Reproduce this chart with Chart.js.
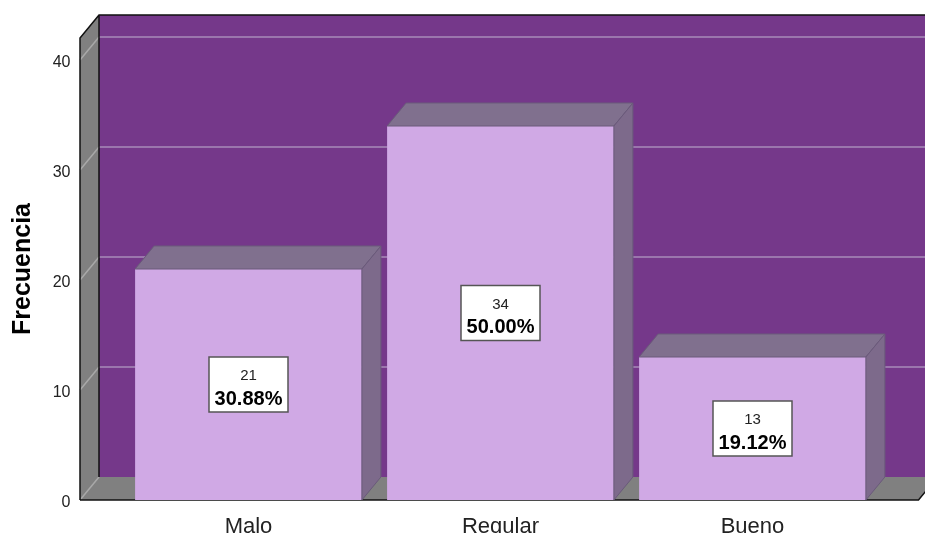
<!DOCTYPE html>
<html>
<head>
<meta charset="utf-8">
<script src="https://cdn.jsdelivr.net/npm/chart.js@4.4.1/dist/chart.umd.min.js"></script>
<style>
  html, body { margin: 0; padding: 0; background: #fff; overflow: hidden; }
  #wrap { position: relative; width: 925px; height: 533px; }
</style>
</head>
<body>
<div id="wrap"><canvas id="chart"></canvas></div>
<script>
// datos
const categorias = ['Malo', 'Regular', 'Bueno'];
const frecuencias = [21, 34, 13];
const marcasY = [0, 10, 20, 30, 40];

const total = frecuencias.reduce((a, b) => a + b, 0);

// profundidad del efecto 3D
const prof = { dx: 19, dy: -23 };

// paredes, piso y lineas de cuadricula
const fondo3D = {
    id: 'fondo3D',
    beforeDatasetsDraw(chart) {
        const { ctx, chartArea: a, scales: { y } } = chart;
        const x0 = a.left - 42.5;
        const bx0 = x0 + prof.dx;
        const frontRight = a.right + 40;
        const yTop = y.getPixelForValue(y.max);
        const yBot = y.getPixelForValue(0);

        ctx.save();

        // pared del fondo
        ctx.fillStyle = '#75388A';
        ctx.fillRect(bx0, yTop + prof.dy, frontRight + prof.dx - bx0, yBot - yTop);

        // pared izquierda
        ctx.fillStyle = '#808080';
        ctx.beginPath();
        ctx.moveTo(x0, yBot);
        ctx.lineTo(x0, yTop);
        ctx.lineTo(bx0, yTop + prof.dy);
        ctx.lineTo(bx0, yBot + prof.dy);
        ctx.closePath();
        ctx.fill();

        // piso
        ctx.beginPath();
        ctx.moveTo(x0, yBot);
        ctx.lineTo(bx0, yBot + prof.dy);
        ctx.lineTo(frontRight + prof.dx, yBot + prof.dy);
        ctx.lineTo(frontRight, yBot);
        ctx.closePath();
        ctx.fill();

        // cuadricula
        ctx.lineWidth = 1.5;
        marcasY.forEach(v => {
            const py = y.getPixelForValue(v);
            ctx.strokeStyle = '#A8A8A8';
            ctx.beginPath();
            ctx.moveTo(x0, py);
            ctx.lineTo(bx0, py + prof.dy);
            ctx.stroke();
            if (v > 0) {
                ctx.strokeStyle = '#A98BB8';
                ctx.beginPath();
                ctx.moveTo(bx0, py + prof.dy);
                ctx.lineTo(frontRight + prof.dx, py + prof.dy);
                ctx.stroke();
            }
        });

        // bordes
        ctx.strokeStyle = '#111';
        ctx.lineWidth = 1.5;
        ctx.beginPath();
        ctx.moveTo(x0, yBot);
        ctx.lineTo(x0, yTop);
        ctx.lineTo(bx0, yTop + prof.dy);
        ctx.lineTo(frontRight + prof.dx, yTop + prof.dy);
        ctx.moveTo(bx0, yTop + prof.dy);
        ctx.lineTo(bx0, yBot + prof.dy);
        ctx.moveTo(x0, yBot);
        ctx.lineTo(frontRight, yBot);
        ctx.lineTo(frontRight + prof.dx, yBot + prof.dy);
        ctx.stroke();

        ctx.restore();
    },

    // caras superior y lateral de las barras, y etiquetas
    afterDatasetsDraw(chart) {
        const { ctx } = chart;
        const meta = chart.getDatasetMeta(0);

        ctx.save();
        meta.data.forEach((bar, i) => {
            const left = bar.x - bar.width / 2;
            const right = bar.x + bar.width / 2;
            const top = bar.y;
            const base = bar.base;

            ctx.lineWidth = 1;
            ctx.strokeStyle = '#6A5A7A';

            // cara superior
            ctx.fillStyle = '#80708E';
            ctx.beginPath();
            ctx.moveTo(left, top);
            ctx.lineTo(left + prof.dx, top + prof.dy);
            ctx.lineTo(right + prof.dx, top + prof.dy);
            ctx.lineTo(right, top);
            ctx.closePath();
            ctx.fill();
            ctx.stroke();

            // cara lateral
            ctx.fillStyle = '#7D6A8B';
            ctx.beginPath();
            ctx.moveTo(right, top);
            ctx.lineTo(right + prof.dx, top + prof.dy);
            ctx.lineTo(right + prof.dx, base + prof.dy);
            ctx.lineTo(right, base);
            ctx.closePath();
            ctx.fill();
            ctx.stroke();

            // etiqueta con frecuencia y porcentaje
            const cy = (top + base) / 2;
            const bw = 79, bh = 55;
            ctx.fillStyle = '#fff';
            ctx.fillRect(bar.x - bw / 2, cy - bh / 2, bw, bh);
            ctx.strokeStyle = '#555';
            ctx.lineWidth = 1.5;
            ctx.strokeRect(bar.x - bw / 2, cy - bh / 2, bw, bh);

            const pct = (frecuencias[i] / total * 100).toFixed(2) + '%';
            ctx.fillStyle = '#222';
            ctx.textAlign = 'center';
            ctx.textBaseline = 'middle';
            ctx.font = '15px "Liberation Sans", Arial';
            ctx.fillText(String(frecuencias[i]), bar.x, cy - 8.5);
            ctx.fillStyle = '#000';
            ctx.font = 'bold 20px "Liberation Sans", Arial';
            ctx.fillText(pct, bar.x, cy + 14.5);
        });
        ctx.restore();
    }
};

Chart.defaults.font.family = '"Liberation Sans", Arial, sans-serif';

new Chart(document.getElementById('chart'), {
    type: 'bar',
    data: {
        labels: categorias,
        datasets: [{
            data: frecuencias,
            backgroundColor: '#D0A9E5',
            borderWidth: 0,
            categoryPercentage: 0.9,
            barPercentage: 1
        }]
    },
    options: {
        responsive: true,
        maintainAspectRatio: false,
        animation: false,
        layout: { padding: { top: 38, right: 46.5, left: 0, bottom: 0 } },
        plugins: {
            legend: { display: false },
            tooltip: { enabled: false }
        },
        scales: {
            x: {
                grid: { display: false },
                border: { display: false },
                ticks: { color: '#222', font: { size: 22 }, padding: 6 },
                afterFit: s => { s.height = 33; }
            },
            y: {
                min: 0,
                max: 42,
                // separacion de las etiquetas con tickLength (no se dibujan las marcas)
                grid: { display: false, drawTicks: true, tickLength: 49 },
                border: { display: false },
                ticks: { stepSize: 10, color: '#222', font: { size: 16 }, padding: 3, labelOffset: 3 },
                afterBuildTicks: s => { s.ticks = s.ticks.filter(t => marcasY.includes(t.value)); },
                afterFit: s => { s.width = 122.5; },
                title: {
                    display: true,
                    text: 'Frecuencia',
                    color: '#000',
                    font: { size: 25, weight: 'bold' },
                    padding: { top: 8 }
                }
            }
        }
    },
    plugins: [fondo3D]
});
</script>
</body>
</html>
